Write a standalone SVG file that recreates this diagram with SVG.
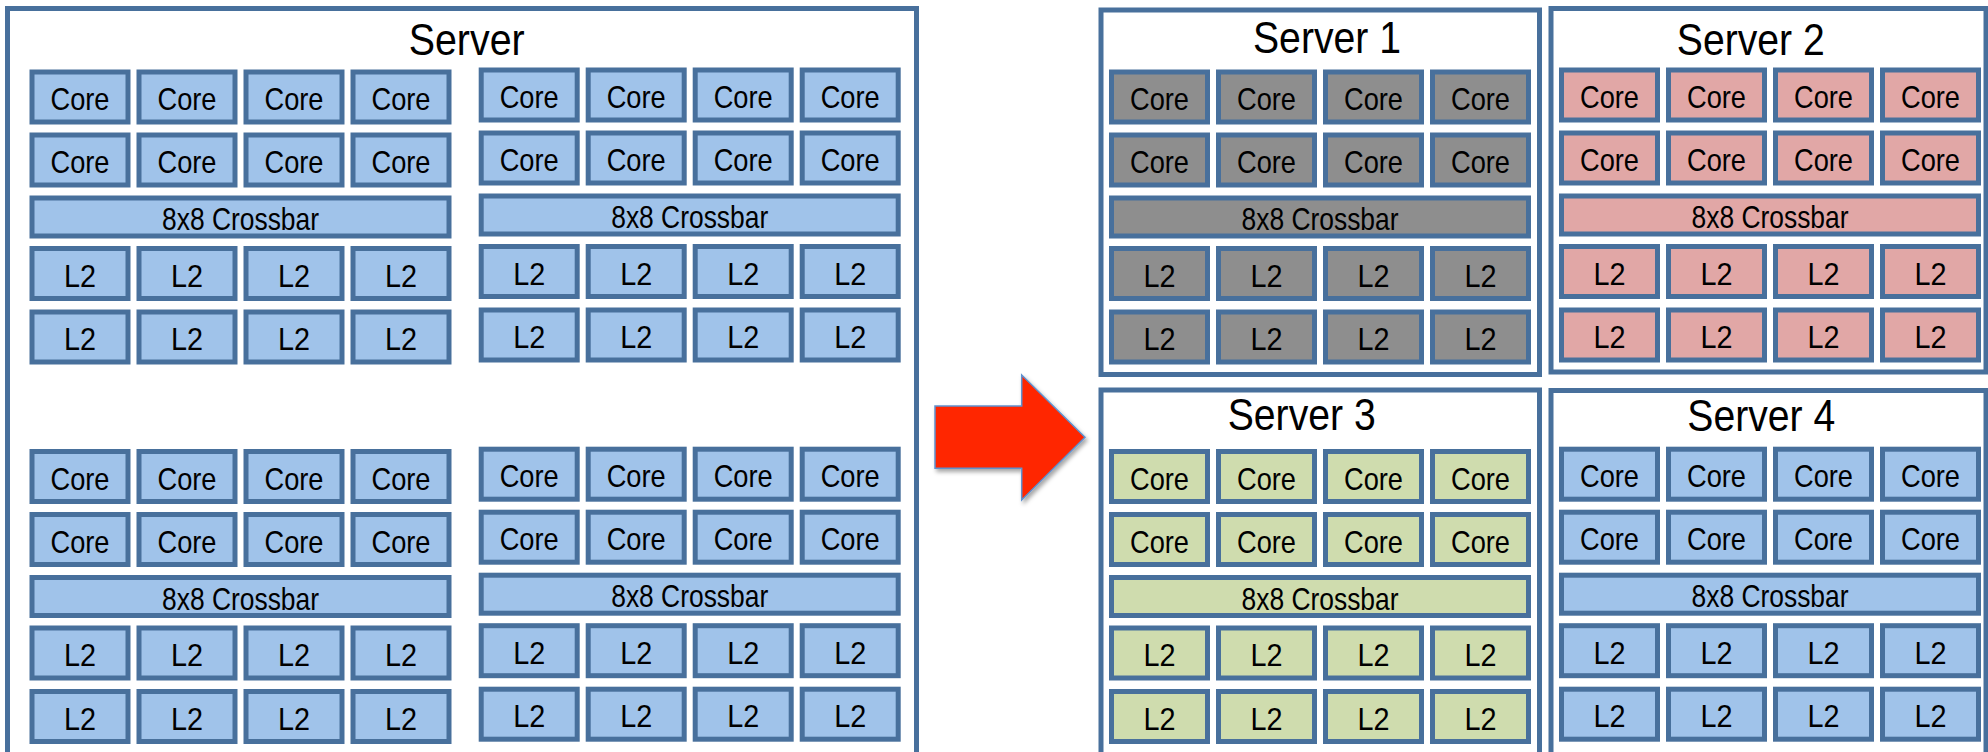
<svg xmlns="http://www.w3.org/2000/svg" width="1988" height="752" viewBox="0 0 1988 752">
<style>
.frame{fill:#fff;stroke:#48709c;stroke-width:5}
.blk rect{stroke:#48709c;stroke-width:5}
.blue{fill:#a0c3ea}.gray{fill:#8e8e8e}.pink{fill:#e1a7a6}.green{fill:#cfdcae}
text{font-family:"Liberation Sans",Arial,sans-serif;text-anchor:middle;fill:#000}
.lbl{font-size:32px}
.title{font-size:45px}
</style>
<defs>
<filter id="sh" x="-20%" y="-20%" width="150%" height="150%"><feDropShadow dx="2" dy="3" stdDeviation="2" flood-color="#000" flood-opacity="0.35"/></filter>
</defs>
<rect width="1988" height="752" fill="#fff"/>

<g id="server">
<rect class="frame" x="7.5" y="8.5" width="909" height="752"/>
<text class="title" x="466.7" y="55" textLength="116" lengthAdjust="spacingAndGlyphs">Server</text>
<g id="server-block-tl" class="blk blue" transform="translate(29.5,69.5)">
<rect x="2.5" y="2.5" width="96" height="50"/><rect x="109.5" y="2.5" width="96" height="50"/><rect x="216.5" y="2.5" width="96" height="50"/><rect x="323.5" y="2.5" width="96" height="50"/>
<rect x="2.5" y="65.5" width="96" height="50"/><rect x="109.5" y="65.5" width="96" height="50"/><rect x="216.5" y="65.5" width="96" height="50"/><rect x="323.5" y="65.5" width="96" height="50"/>
<rect x="2.5" y="128.5" width="417" height="38"/>
<rect x="2.5" y="179" width="96" height="50"/><rect x="109.5" y="179" width="96" height="50"/><rect x="216.5" y="179" width="96" height="50"/><rect x="323.5" y="179" width="96" height="50"/>
<rect x="2.5" y="242.5" width="96" height="50"/><rect x="109.5" y="242.5" width="96" height="50"/><rect x="216.5" y="242.5" width="96" height="50"/><rect x="323.5" y="242.5" width="96" height="50"/>
<text class="lbl" x="50.5" y="40.5" textLength="59" lengthAdjust="spacingAndGlyphs">Core</text><text class="lbl" x="157.5" y="40.5" textLength="59" lengthAdjust="spacingAndGlyphs">Core</text><text class="lbl" x="264.5" y="40.5" textLength="59" lengthAdjust="spacingAndGlyphs">Core</text><text class="lbl" x="371.5" y="40.5" textLength="59" lengthAdjust="spacingAndGlyphs">Core</text>
<text class="lbl" x="50.5" y="103.5" textLength="59" lengthAdjust="spacingAndGlyphs">Core</text><text class="lbl" x="157.5" y="103.5" textLength="59" lengthAdjust="spacingAndGlyphs">Core</text><text class="lbl" x="264.5" y="103.5" textLength="59" lengthAdjust="spacingAndGlyphs">Core</text><text class="lbl" x="371.5" y="103.5" textLength="59" lengthAdjust="spacingAndGlyphs">Core</text>
<text class="lbl" x="211" y="160.5" textLength="157" lengthAdjust="spacingAndGlyphs">8x8 Crossbar</text>
<text class="lbl" x="50.5" y="217" textLength="32" lengthAdjust="spacingAndGlyphs">L2</text><text class="lbl" x="157.5" y="217" textLength="32" lengthAdjust="spacingAndGlyphs">L2</text><text class="lbl" x="264.5" y="217" textLength="32" lengthAdjust="spacingAndGlyphs">L2</text><text class="lbl" x="371.5" y="217" textLength="32" lengthAdjust="spacingAndGlyphs">L2</text>
<text class="lbl" x="50.5" y="280.5" textLength="32" lengthAdjust="spacingAndGlyphs">L2</text><text class="lbl" x="157.5" y="280.5" textLength="32" lengthAdjust="spacingAndGlyphs">L2</text><text class="lbl" x="264.5" y="280.5" textLength="32" lengthAdjust="spacingAndGlyphs">L2</text><text class="lbl" x="371.5" y="280.5" textLength="32" lengthAdjust="spacingAndGlyphs">L2</text>
</g>
<g id="server-block-tr" class="blk blue" transform="translate(478.7,67.5)">
<rect x="2.5" y="2.5" width="96" height="50"/><rect x="109.5" y="2.5" width="96" height="50"/><rect x="216.5" y="2.5" width="96" height="50"/><rect x="323.5" y="2.5" width="96" height="50"/>
<rect x="2.5" y="65.5" width="96" height="50"/><rect x="109.5" y="65.5" width="96" height="50"/><rect x="216.5" y="65.5" width="96" height="50"/><rect x="323.5" y="65.5" width="96" height="50"/>
<rect x="2.5" y="128.5" width="417" height="38"/>
<rect x="2.5" y="179" width="96" height="50"/><rect x="109.5" y="179" width="96" height="50"/><rect x="216.5" y="179" width="96" height="50"/><rect x="323.5" y="179" width="96" height="50"/>
<rect x="2.5" y="242.5" width="96" height="50"/><rect x="109.5" y="242.5" width="96" height="50"/><rect x="216.5" y="242.5" width="96" height="50"/><rect x="323.5" y="242.5" width="96" height="50"/>
<text class="lbl" x="50.5" y="40.5" textLength="59" lengthAdjust="spacingAndGlyphs">Core</text><text class="lbl" x="157.5" y="40.5" textLength="59" lengthAdjust="spacingAndGlyphs">Core</text><text class="lbl" x="264.5" y="40.5" textLength="59" lengthAdjust="spacingAndGlyphs">Core</text><text class="lbl" x="371.5" y="40.5" textLength="59" lengthAdjust="spacingAndGlyphs">Core</text>
<text class="lbl" x="50.5" y="103.5" textLength="59" lengthAdjust="spacingAndGlyphs">Core</text><text class="lbl" x="157.5" y="103.5" textLength="59" lengthAdjust="spacingAndGlyphs">Core</text><text class="lbl" x="264.5" y="103.5" textLength="59" lengthAdjust="spacingAndGlyphs">Core</text><text class="lbl" x="371.5" y="103.5" textLength="59" lengthAdjust="spacingAndGlyphs">Core</text>
<text class="lbl" x="211" y="160.5" textLength="157" lengthAdjust="spacingAndGlyphs">8x8 Crossbar</text>
<text class="lbl" x="50.5" y="217" textLength="32" lengthAdjust="spacingAndGlyphs">L2</text><text class="lbl" x="157.5" y="217" textLength="32" lengthAdjust="spacingAndGlyphs">L2</text><text class="lbl" x="264.5" y="217" textLength="32" lengthAdjust="spacingAndGlyphs">L2</text><text class="lbl" x="371.5" y="217" textLength="32" lengthAdjust="spacingAndGlyphs">L2</text>
<text class="lbl" x="50.5" y="280.5" textLength="32" lengthAdjust="spacingAndGlyphs">L2</text><text class="lbl" x="157.5" y="280.5" textLength="32" lengthAdjust="spacingAndGlyphs">L2</text><text class="lbl" x="264.5" y="280.5" textLength="32" lengthAdjust="spacingAndGlyphs">L2</text><text class="lbl" x="371.5" y="280.5" textLength="32" lengthAdjust="spacingAndGlyphs">L2</text>
</g>
<g id="server-block-bl" class="blk blue" transform="translate(29.5,449)">
<rect x="2.5" y="2.5" width="96" height="50"/><rect x="109.5" y="2.5" width="96" height="50"/><rect x="216.5" y="2.5" width="96" height="50"/><rect x="323.5" y="2.5" width="96" height="50"/>
<rect x="2.5" y="65.5" width="96" height="50"/><rect x="109.5" y="65.5" width="96" height="50"/><rect x="216.5" y="65.5" width="96" height="50"/><rect x="323.5" y="65.5" width="96" height="50"/>
<rect x="2.5" y="128.5" width="417" height="38"/>
<rect x="2.5" y="179" width="96" height="50"/><rect x="109.5" y="179" width="96" height="50"/><rect x="216.5" y="179" width="96" height="50"/><rect x="323.5" y="179" width="96" height="50"/>
<rect x="2.5" y="242.5" width="96" height="50"/><rect x="109.5" y="242.5" width="96" height="50"/><rect x="216.5" y="242.5" width="96" height="50"/><rect x="323.5" y="242.5" width="96" height="50"/>
<text class="lbl" x="50.5" y="40.5" textLength="59" lengthAdjust="spacingAndGlyphs">Core</text><text class="lbl" x="157.5" y="40.5" textLength="59" lengthAdjust="spacingAndGlyphs">Core</text><text class="lbl" x="264.5" y="40.5" textLength="59" lengthAdjust="spacingAndGlyphs">Core</text><text class="lbl" x="371.5" y="40.5" textLength="59" lengthAdjust="spacingAndGlyphs">Core</text>
<text class="lbl" x="50.5" y="103.5" textLength="59" lengthAdjust="spacingAndGlyphs">Core</text><text class="lbl" x="157.5" y="103.5" textLength="59" lengthAdjust="spacingAndGlyphs">Core</text><text class="lbl" x="264.5" y="103.5" textLength="59" lengthAdjust="spacingAndGlyphs">Core</text><text class="lbl" x="371.5" y="103.5" textLength="59" lengthAdjust="spacingAndGlyphs">Core</text>
<text class="lbl" x="211" y="160.5" textLength="157" lengthAdjust="spacingAndGlyphs">8x8 Crossbar</text>
<text class="lbl" x="50.5" y="217" textLength="32" lengthAdjust="spacingAndGlyphs">L2</text><text class="lbl" x="157.5" y="217" textLength="32" lengthAdjust="spacingAndGlyphs">L2</text><text class="lbl" x="264.5" y="217" textLength="32" lengthAdjust="spacingAndGlyphs">L2</text><text class="lbl" x="371.5" y="217" textLength="32" lengthAdjust="spacingAndGlyphs">L2</text>
<text class="lbl" x="50.5" y="280.5" textLength="32" lengthAdjust="spacingAndGlyphs">L2</text><text class="lbl" x="157.5" y="280.5" textLength="32" lengthAdjust="spacingAndGlyphs">L2</text><text class="lbl" x="264.5" y="280.5" textLength="32" lengthAdjust="spacingAndGlyphs">L2</text><text class="lbl" x="371.5" y="280.5" textLength="32" lengthAdjust="spacingAndGlyphs">L2</text>
</g>
<g id="server-block-br" class="blk blue" transform="translate(478.7,446.7)">
<rect x="2.5" y="2.5" width="96" height="50"/><rect x="109.5" y="2.5" width="96" height="50"/><rect x="216.5" y="2.5" width="96" height="50"/><rect x="323.5" y="2.5" width="96" height="50"/>
<rect x="2.5" y="65.5" width="96" height="50"/><rect x="109.5" y="65.5" width="96" height="50"/><rect x="216.5" y="65.5" width="96" height="50"/><rect x="323.5" y="65.5" width="96" height="50"/>
<rect x="2.5" y="128.5" width="417" height="38"/>
<rect x="2.5" y="179" width="96" height="50"/><rect x="109.5" y="179" width="96" height="50"/><rect x="216.5" y="179" width="96" height="50"/><rect x="323.5" y="179" width="96" height="50"/>
<rect x="2.5" y="242.5" width="96" height="50"/><rect x="109.5" y="242.5" width="96" height="50"/><rect x="216.5" y="242.5" width="96" height="50"/><rect x="323.5" y="242.5" width="96" height="50"/>
<text class="lbl" x="50.5" y="40.5" textLength="59" lengthAdjust="spacingAndGlyphs">Core</text><text class="lbl" x="157.5" y="40.5" textLength="59" lengthAdjust="spacingAndGlyphs">Core</text><text class="lbl" x="264.5" y="40.5" textLength="59" lengthAdjust="spacingAndGlyphs">Core</text><text class="lbl" x="371.5" y="40.5" textLength="59" lengthAdjust="spacingAndGlyphs">Core</text>
<text class="lbl" x="50.5" y="103.5" textLength="59" lengthAdjust="spacingAndGlyphs">Core</text><text class="lbl" x="157.5" y="103.5" textLength="59" lengthAdjust="spacingAndGlyphs">Core</text><text class="lbl" x="264.5" y="103.5" textLength="59" lengthAdjust="spacingAndGlyphs">Core</text><text class="lbl" x="371.5" y="103.5" textLength="59" lengthAdjust="spacingAndGlyphs">Core</text>
<text class="lbl" x="211" y="160.5" textLength="157" lengthAdjust="spacingAndGlyphs">8x8 Crossbar</text>
<text class="lbl" x="50.5" y="217" textLength="32" lengthAdjust="spacingAndGlyphs">L2</text><text class="lbl" x="157.5" y="217" textLength="32" lengthAdjust="spacingAndGlyphs">L2</text><text class="lbl" x="264.5" y="217" textLength="32" lengthAdjust="spacingAndGlyphs">L2</text><text class="lbl" x="371.5" y="217" textLength="32" lengthAdjust="spacingAndGlyphs">L2</text>
<text class="lbl" x="50.5" y="280.5" textLength="32" lengthAdjust="spacingAndGlyphs">L2</text><text class="lbl" x="157.5" y="280.5" textLength="32" lengthAdjust="spacingAndGlyphs">L2</text><text class="lbl" x="264.5" y="280.5" textLength="32" lengthAdjust="spacingAndGlyphs">L2</text><text class="lbl" x="371.5" y="280.5" textLength="32" lengthAdjust="spacingAndGlyphs">L2</text>
</g>
</g>

<g id="server1">
<rect class="frame" x="1101" y="10" width="438.5" height="364.5"/>
<text class="title" x="1327" y="53" textLength="148" lengthAdjust="spacingAndGlyphs">Server 1</text>
<g class="blk gray" transform="translate(1109,69.5)">
<rect x="2.5" y="2.5" width="96" height="50"/><rect x="109.5" y="2.5" width="96" height="50"/><rect x="216.5" y="2.5" width="96" height="50"/><rect x="323.5" y="2.5" width="96" height="50"/>
<rect x="2.5" y="65.5" width="96" height="50"/><rect x="109.5" y="65.5" width="96" height="50"/><rect x="216.5" y="65.5" width="96" height="50"/><rect x="323.5" y="65.5" width="96" height="50"/>
<rect x="2.5" y="128.5" width="417" height="38"/>
<rect x="2.5" y="179" width="96" height="50"/><rect x="109.5" y="179" width="96" height="50"/><rect x="216.5" y="179" width="96" height="50"/><rect x="323.5" y="179" width="96" height="50"/>
<rect x="2.5" y="242.5" width="96" height="50"/><rect x="109.5" y="242.5" width="96" height="50"/><rect x="216.5" y="242.5" width="96" height="50"/><rect x="323.5" y="242.5" width="96" height="50"/>
<text class="lbl" x="50.5" y="40.5" textLength="59" lengthAdjust="spacingAndGlyphs">Core</text><text class="lbl" x="157.5" y="40.5" textLength="59" lengthAdjust="spacingAndGlyphs">Core</text><text class="lbl" x="264.5" y="40.5" textLength="59" lengthAdjust="spacingAndGlyphs">Core</text><text class="lbl" x="371.5" y="40.5" textLength="59" lengthAdjust="spacingAndGlyphs">Core</text>
<text class="lbl" x="50.5" y="103.5" textLength="59" lengthAdjust="spacingAndGlyphs">Core</text><text class="lbl" x="157.5" y="103.5" textLength="59" lengthAdjust="spacingAndGlyphs">Core</text><text class="lbl" x="264.5" y="103.5" textLength="59" lengthAdjust="spacingAndGlyphs">Core</text><text class="lbl" x="371.5" y="103.5" textLength="59" lengthAdjust="spacingAndGlyphs">Core</text>
<text class="lbl" x="211" y="160.5" textLength="157" lengthAdjust="spacingAndGlyphs">8x8 Crossbar</text>
<text class="lbl" x="50.5" y="217" textLength="32" lengthAdjust="spacingAndGlyphs">L2</text><text class="lbl" x="157.5" y="217" textLength="32" lengthAdjust="spacingAndGlyphs">L2</text><text class="lbl" x="264.5" y="217" textLength="32" lengthAdjust="spacingAndGlyphs">L2</text><text class="lbl" x="371.5" y="217" textLength="32" lengthAdjust="spacingAndGlyphs">L2</text>
<text class="lbl" x="50.5" y="280.5" textLength="32" lengthAdjust="spacingAndGlyphs">L2</text><text class="lbl" x="157.5" y="280.5" textLength="32" lengthAdjust="spacingAndGlyphs">L2</text><text class="lbl" x="264.5" y="280.5" textLength="32" lengthAdjust="spacingAndGlyphs">L2</text><text class="lbl" x="371.5" y="280.5" textLength="32" lengthAdjust="spacingAndGlyphs">L2</text>
</g>
</g>

<g id="server2">
<rect class="frame" x="1551" y="8.5" width="435" height="363.5"/>
<text class="title" x="1750.8" y="55" textLength="148" lengthAdjust="spacingAndGlyphs">Server 2</text>
<g class="blk pink" transform="translate(1559,67.5)">
<rect x="2.5" y="2.5" width="96" height="50"/><rect x="109.5" y="2.5" width="96" height="50"/><rect x="216.5" y="2.5" width="96" height="50"/><rect x="323.5" y="2.5" width="96" height="50"/>
<rect x="2.5" y="65.5" width="96" height="50"/><rect x="109.5" y="65.5" width="96" height="50"/><rect x="216.5" y="65.5" width="96" height="50"/><rect x="323.5" y="65.5" width="96" height="50"/>
<rect x="2.5" y="128.5" width="417" height="38"/>
<rect x="2.5" y="179" width="96" height="50"/><rect x="109.5" y="179" width="96" height="50"/><rect x="216.5" y="179" width="96" height="50"/><rect x="323.5" y="179" width="96" height="50"/>
<rect x="2.5" y="242.5" width="96" height="50"/><rect x="109.5" y="242.5" width="96" height="50"/><rect x="216.5" y="242.5" width="96" height="50"/><rect x="323.5" y="242.5" width="96" height="50"/>
<text class="lbl" x="50.5" y="40.5" textLength="59" lengthAdjust="spacingAndGlyphs">Core</text><text class="lbl" x="157.5" y="40.5" textLength="59" lengthAdjust="spacingAndGlyphs">Core</text><text class="lbl" x="264.5" y="40.5" textLength="59" lengthAdjust="spacingAndGlyphs">Core</text><text class="lbl" x="371.5" y="40.5" textLength="59" lengthAdjust="spacingAndGlyphs">Core</text>
<text class="lbl" x="50.5" y="103.5" textLength="59" lengthAdjust="spacingAndGlyphs">Core</text><text class="lbl" x="157.5" y="103.5" textLength="59" lengthAdjust="spacingAndGlyphs">Core</text><text class="lbl" x="264.5" y="103.5" textLength="59" lengthAdjust="spacingAndGlyphs">Core</text><text class="lbl" x="371.5" y="103.5" textLength="59" lengthAdjust="spacingAndGlyphs">Core</text>
<text class="lbl" x="211" y="160.5" textLength="157" lengthAdjust="spacingAndGlyphs">8x8 Crossbar</text>
<text class="lbl" x="50.5" y="217" textLength="32" lengthAdjust="spacingAndGlyphs">L2</text><text class="lbl" x="157.5" y="217" textLength="32" lengthAdjust="spacingAndGlyphs">L2</text><text class="lbl" x="264.5" y="217" textLength="32" lengthAdjust="spacingAndGlyphs">L2</text><text class="lbl" x="371.5" y="217" textLength="32" lengthAdjust="spacingAndGlyphs">L2</text>
<text class="lbl" x="50.5" y="280.5" textLength="32" lengthAdjust="spacingAndGlyphs">L2</text><text class="lbl" x="157.5" y="280.5" textLength="32" lengthAdjust="spacingAndGlyphs">L2</text><text class="lbl" x="264.5" y="280.5" textLength="32" lengthAdjust="spacingAndGlyphs">L2</text><text class="lbl" x="371.5" y="280.5" textLength="32" lengthAdjust="spacingAndGlyphs">L2</text>
</g>
</g>

<g id="server3">
<rect class="frame" x="1101" y="390" width="438.5" height="370"/>
<text class="title" x="1301.7" y="430" textLength="148" lengthAdjust="spacingAndGlyphs">Server 3</text>
<g class="blk green" transform="translate(1109,449)">
<rect x="2.5" y="2.5" width="96" height="50"/><rect x="109.5" y="2.5" width="96" height="50"/><rect x="216.5" y="2.5" width="96" height="50"/><rect x="323.5" y="2.5" width="96" height="50"/>
<rect x="2.5" y="65.5" width="96" height="50"/><rect x="109.5" y="65.5" width="96" height="50"/><rect x="216.5" y="65.5" width="96" height="50"/><rect x="323.5" y="65.5" width="96" height="50"/>
<rect x="2.5" y="128.5" width="417" height="38"/>
<rect x="2.5" y="179" width="96" height="50"/><rect x="109.5" y="179" width="96" height="50"/><rect x="216.5" y="179" width="96" height="50"/><rect x="323.5" y="179" width="96" height="50"/>
<rect x="2.5" y="242.5" width="96" height="50"/><rect x="109.5" y="242.5" width="96" height="50"/><rect x="216.5" y="242.5" width="96" height="50"/><rect x="323.5" y="242.5" width="96" height="50"/>
<text class="lbl" x="50.5" y="40.5" textLength="59" lengthAdjust="spacingAndGlyphs">Core</text><text class="lbl" x="157.5" y="40.5" textLength="59" lengthAdjust="spacingAndGlyphs">Core</text><text class="lbl" x="264.5" y="40.5" textLength="59" lengthAdjust="spacingAndGlyphs">Core</text><text class="lbl" x="371.5" y="40.5" textLength="59" lengthAdjust="spacingAndGlyphs">Core</text>
<text class="lbl" x="50.5" y="103.5" textLength="59" lengthAdjust="spacingAndGlyphs">Core</text><text class="lbl" x="157.5" y="103.5" textLength="59" lengthAdjust="spacingAndGlyphs">Core</text><text class="lbl" x="264.5" y="103.5" textLength="59" lengthAdjust="spacingAndGlyphs">Core</text><text class="lbl" x="371.5" y="103.5" textLength="59" lengthAdjust="spacingAndGlyphs">Core</text>
<text class="lbl" x="211" y="160.5" textLength="157" lengthAdjust="spacingAndGlyphs">8x8 Crossbar</text>
<text class="lbl" x="50.5" y="217" textLength="32" lengthAdjust="spacingAndGlyphs">L2</text><text class="lbl" x="157.5" y="217" textLength="32" lengthAdjust="spacingAndGlyphs">L2</text><text class="lbl" x="264.5" y="217" textLength="32" lengthAdjust="spacingAndGlyphs">L2</text><text class="lbl" x="371.5" y="217" textLength="32" lengthAdjust="spacingAndGlyphs">L2</text>
<text class="lbl" x="50.5" y="280.5" textLength="32" lengthAdjust="spacingAndGlyphs">L2</text><text class="lbl" x="157.5" y="280.5" textLength="32" lengthAdjust="spacingAndGlyphs">L2</text><text class="lbl" x="264.5" y="280.5" textLength="32" lengthAdjust="spacingAndGlyphs">L2</text><text class="lbl" x="371.5" y="280.5" textLength="32" lengthAdjust="spacingAndGlyphs">L2</text>
</g>
</g>

<g id="server4">
<rect class="frame" x="1551" y="390.5" width="435" height="370"/>
<text class="title" x="1761.3" y="430.7" textLength="148" lengthAdjust="spacingAndGlyphs">Server 4</text>
<g class="blk blue" transform="translate(1559,446.7)">
<rect x="2.5" y="2.5" width="96" height="50"/><rect x="109.5" y="2.5" width="96" height="50"/><rect x="216.5" y="2.5" width="96" height="50"/><rect x="323.5" y="2.5" width="96" height="50"/>
<rect x="2.5" y="65.5" width="96" height="50"/><rect x="109.5" y="65.5" width="96" height="50"/><rect x="216.5" y="65.5" width="96" height="50"/><rect x="323.5" y="65.5" width="96" height="50"/>
<rect x="2.5" y="128.5" width="417" height="38"/>
<rect x="2.5" y="179" width="96" height="50"/><rect x="109.5" y="179" width="96" height="50"/><rect x="216.5" y="179" width="96" height="50"/><rect x="323.5" y="179" width="96" height="50"/>
<rect x="2.5" y="242.5" width="96" height="50"/><rect x="109.5" y="242.5" width="96" height="50"/><rect x="216.5" y="242.5" width="96" height="50"/><rect x="323.5" y="242.5" width="96" height="50"/>
<text class="lbl" x="50.5" y="40.5" textLength="59" lengthAdjust="spacingAndGlyphs">Core</text><text class="lbl" x="157.5" y="40.5" textLength="59" lengthAdjust="spacingAndGlyphs">Core</text><text class="lbl" x="264.5" y="40.5" textLength="59" lengthAdjust="spacingAndGlyphs">Core</text><text class="lbl" x="371.5" y="40.5" textLength="59" lengthAdjust="spacingAndGlyphs">Core</text>
<text class="lbl" x="50.5" y="103.5" textLength="59" lengthAdjust="spacingAndGlyphs">Core</text><text class="lbl" x="157.5" y="103.5" textLength="59" lengthAdjust="spacingAndGlyphs">Core</text><text class="lbl" x="264.5" y="103.5" textLength="59" lengthAdjust="spacingAndGlyphs">Core</text><text class="lbl" x="371.5" y="103.5" textLength="59" lengthAdjust="spacingAndGlyphs">Core</text>
<text class="lbl" x="211" y="160.5" textLength="157" lengthAdjust="spacingAndGlyphs">8x8 Crossbar</text>
<text class="lbl" x="50.5" y="217" textLength="32" lengthAdjust="spacingAndGlyphs">L2</text><text class="lbl" x="157.5" y="217" textLength="32" lengthAdjust="spacingAndGlyphs">L2</text><text class="lbl" x="264.5" y="217" textLength="32" lengthAdjust="spacingAndGlyphs">L2</text><text class="lbl" x="371.5" y="217" textLength="32" lengthAdjust="spacingAndGlyphs">L2</text>
<text class="lbl" x="50.5" y="280.5" textLength="32" lengthAdjust="spacingAndGlyphs">L2</text><text class="lbl" x="157.5" y="280.5" textLength="32" lengthAdjust="spacingAndGlyphs">L2</text><text class="lbl" x="264.5" y="280.5" textLength="32" lengthAdjust="spacingAndGlyphs">L2</text><text class="lbl" x="371.5" y="280.5" textLength="32" lengthAdjust="spacingAndGlyphs">L2</text>
</g>
</g>

<g id="connectors">
<polygon points="935,406 1021.7,406 1021.7,375 1085,437.3 1021.7,500 1021.7,468.3 935,468.3" fill="#ff2600" stroke="#5f92cf" stroke-width="1.5" filter="url(#sh)"/>
</g>
</svg>
